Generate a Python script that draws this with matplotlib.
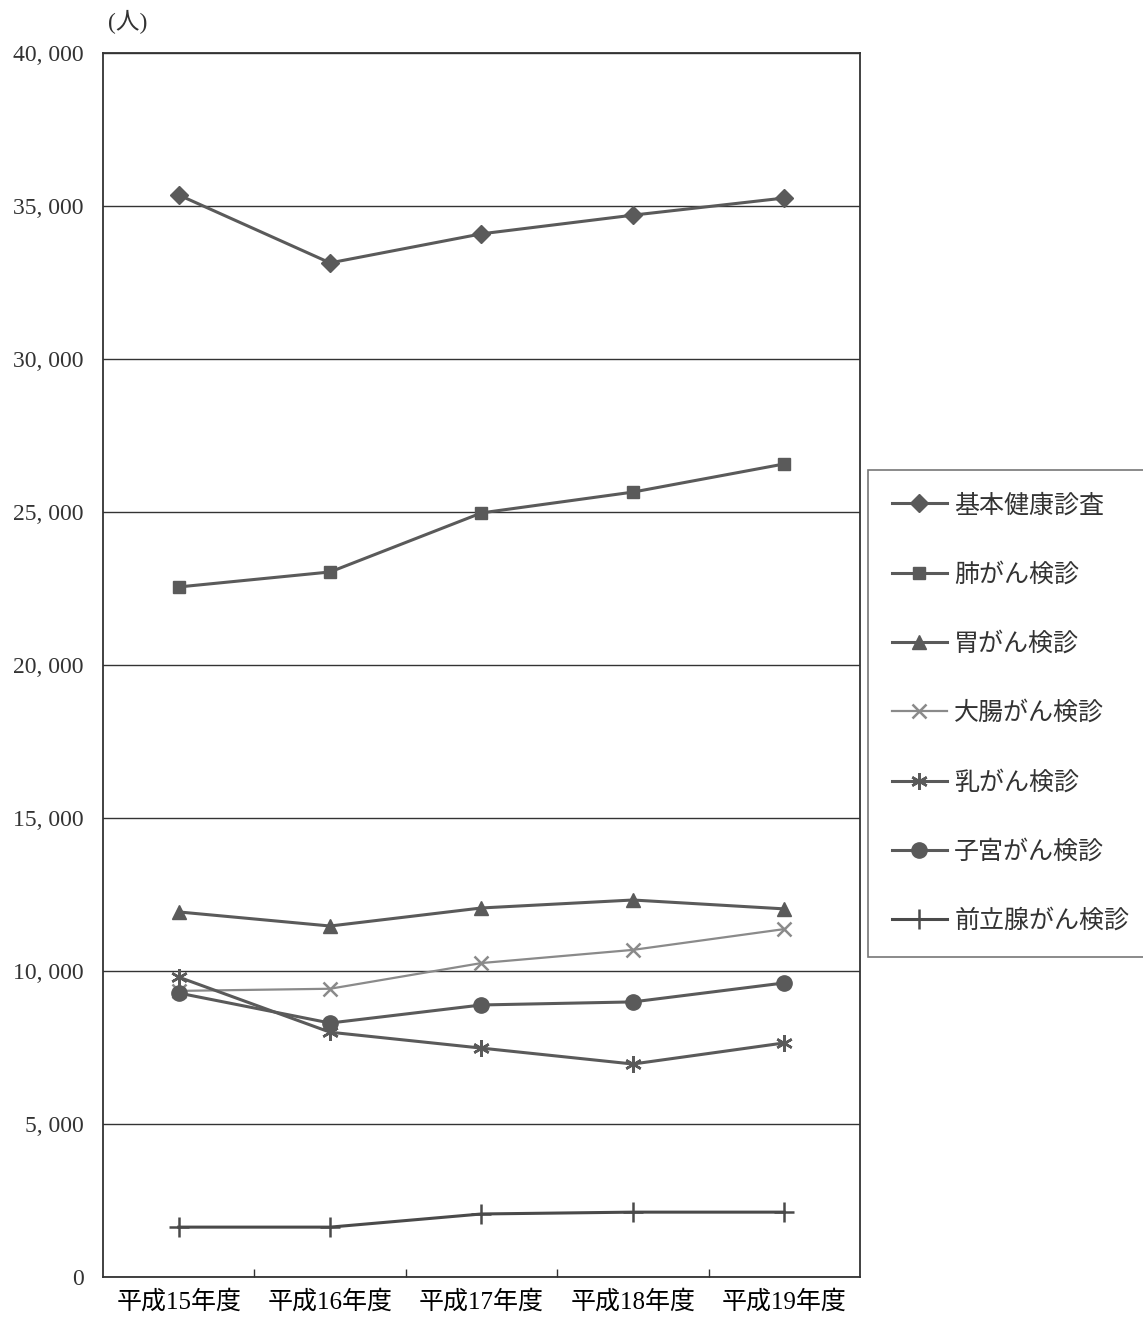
import matplotlib.pyplot as plt
from matplotlib.ticker import FuncFormatter, MultipleLocator

plt.rcParams['font.family'] = ['Liberation Serif', 'Noto Sans CJK JP']

years = ['平成15年度', '平成16年度', '平成17年度', '平成18年度', '平成19年度']

kihon = [35360, 33140, 34090, 34700, 35260]
hai = [22550, 23040, 24970, 25650, 26570]
i_gan = [11930, 11470, 12060, 12320, 12030]
daicho = [9350, 9420, 10260, 10690, 11370]
nyu = [9800, 8000, 7480, 6960, 7650]
shikyu = [9280, 8300, 8890, 8990, 9610]
zenritsusen = [1630, 1630, 2060, 2120, 2120]

series = [
    ('基本健康診査', kihon, 'D', 9, '#5a5a5a'),
    ('肺がん検診', hai, 's', 9, '#5a5a5a'),
    ('胃がん検診', i_gan, '^', 10, '#5a5a5a'),
    ('大腸がん検診', daicho, 'x', 10, '#8a8a8a'),
    ('乳がん検診', nyu, (6, 2, 0), 12, '#5a5a5a'),
    ('子宮がん検診', shikyu, 'o', 11, '#5a5a5a'),
    ('前立腺がん検診', zenritsusen, '+', 14, '#4a4a4a'),
]

fig = plt.figure(figsize=(11.43, 13.21), dpi=100)
ax = fig.add_axes([0.0901, 0.0333, 0.6623, 0.9266])

x = list(range(len(years)))
for name, vals, mk, ms, col in series:
    lw = 1.6 if name == '大腸がん検診' else 2.2
    ax.plot(x, vals, color=col, lw=lw, marker=mk, markersize=ms,
            markeredgewidth=1.8 if mk in ('x', '+') or isinstance(mk, tuple) else 1.0,
            markerfacecolor=col, markeredgecolor=col, label=name)

ax.set_xlim(-0.5, len(years) - 0.5)
ax.set_ylim(0, 40000)
ax.yaxis.set_major_locator(MultipleLocator(5000))
ax.yaxis.set_major_formatter(FuncFormatter(lambda v, p: f'{int(v):,}'.replace(',', ', ')))
ax.grid(axis='y', color='#333333', lw=1.0)
ax.set_axisbelow(True)

ax.set_xticks(x)
ax.set_xticklabels(years, fontsize=18)
ax.set_xticks([i + 0.5 for i in x[:-1]], minor=True)
ax.tick_params(axis='x', which='major', length=0, pad=9)
ax.tick_params(axis='x', which='minor', direction='in', length=6, width=1, color='#333333')
ax.tick_params(axis='y', length=0, pad=14, labelsize=17, labelcolor='#333333')
for sp in ax.spines.values():
    sp.set_color('#333333')
    sp.set_linewidth(1.3)

fig.text(0.112, 0.983, '(人)', fontsize=17, ha='center', va='center', color='#333333')

leg = ax.legend(loc='upper left', bbox_to_anchor=(868 / 1143, 1 - 470 / 1321),
                bbox_transform=fig.transFigure, fontsize=18, labelspacing=1.82,
                handlelength=2.2, handletextpad=0.3, borderpad=0.95,
                borderaxespad=0, frameon=True, fancybox=False)
leg.get_frame().set_edgecolor('#555555')
leg.get_frame().set_linewidth(1.2)
for t in leg.get_texts():
    t.set_color('#333333')

fig.savefig('out.png', dpi=100)
